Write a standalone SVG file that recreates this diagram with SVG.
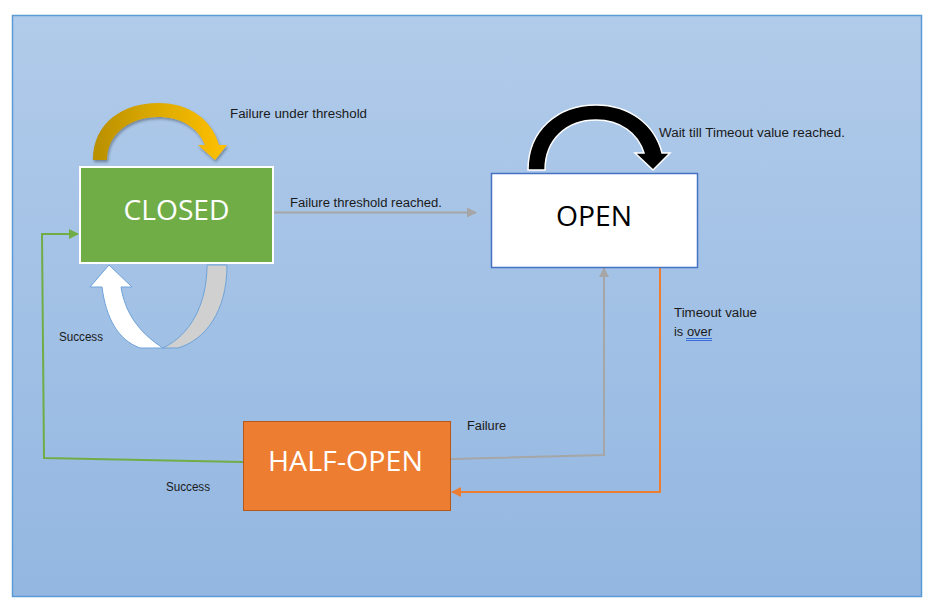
<svg xmlns="http://www.w3.org/2000/svg" width="940" height="609" viewBox="0 0 940 609">
<defs>
<linearGradient id="bg" x1="0" y1="0" x2="0" y2="1">
<stop offset="0" stop-color="#b1cbea"/>
<stop offset="1" stop-color="#93b7e1"/>
</linearGradient>
<linearGradient id="gold" x1="0" y1="0" x2="1" y2="0">
<stop offset="0" stop-color="#b98f00"/>
<stop offset="0.45" stop-color="#dba900"/>
<stop offset="1" stop-color="#ffc000"/>
</linearGradient>
<filter id="sh" x="-20%" y="-20%" width="140%" height="140%">
<feDropShadow dx="1" dy="2" stdDeviation="1.5" flood-color="#000" flood-opacity="0.35"/>
</filter>
<marker id="mGray" viewBox="0 0 10 10" refX="9" refY="5" markerWidth="10" markerHeight="10" markerUnits="userSpaceOnUse" orient="auto">
<path d="M0,0 L10,5 L0,10 Z" fill="#a6a6a6"/>
</marker>
<marker id="mOrange" viewBox="0 0 10 10" refX="9" refY="5" markerWidth="10" markerHeight="10" markerUnits="userSpaceOnUse" orient="auto">
<path d="M0,0 L10,5 L0,10 Z" fill="#ed7d31"/>
</marker>
<marker id="mGreen" viewBox="0 0 10 10" refX="9" refY="5" markerWidth="10" markerHeight="10" markerUnits="userSpaceOnUse" orient="auto">
<path d="M0,0 L10,5 L0,10 Z" fill="#70ad47"/>
</marker>
</defs>
<style>
.lbl{font-family:"Liberation Sans","Open Sans",sans-serif;font-size:12px;fill:#1a1a1a}
.big{font-family:"Open Sans","Liberation Sans",sans-serif;font-size:28px}
.conn{fill:none;stroke-width:2}
</style>
<rect x="0" y="0" width="940" height="609" fill="#ffffff"/>
<rect x="12.5" y="15.5" width="909" height="581" fill="url(#bg)" stroke="#5b9bd5" stroke-width="1.5"/>

<g id="connectors">
<path class="conn" d="M274,212.5 L476,212.5" stroke="#a6a6a6" marker-end="url(#mGray)"/>
<path class="conn" d="M451,459 L604,455 L604,268" stroke="#a6a6a6" marker-end="url(#mGray)"/>
<path class="conn" d="M660,268 L660,492 L452,492" stroke="#ed7d31" marker-end="url(#mOrange)"/>
<path class="conn" d="M243,462 L44,458 L42,234 L78,234" stroke="#70ad47" marker-end="url(#mGreen)"/>
</g>

<g id="loop-closed-failure">
<path filter="url(#sh)" d="M93,160 C93,122 124,103 158,103 C190,103 212,120 219,145 L227,145 L215,160 L198,145 L205,145 C198,127 180,117 158,117 C130,117 107,134 107,160 Z" fill="url(#gold)"/>
</g>

<g id="loop-open">
<path d="M528,170 C528,130 558,105 596,105 C630,105 655,125 662,153 L670,153 L653,170 L635,153 L644,153 C638,133 620,120 596,120 C566,120 545,140 545,170 Z" fill="#000" stroke="#fff" stroke-width="1.5"/>
</g>

<g id="loop-closed-success">
<path d="M163,348 C190,335 207,305 207,265 L227,265 C227,312 205,340 178,348 Z" fill="#d0d0d0" stroke="#6fa3d8" stroke-width="1"/>
<path d="M163,348 L140,348 C118,340 106,318 102,287 L90,287 L109,265 L132,287 L121,287 C125,312 138,332 163,348 Z" fill="#ffffff" stroke="#6fa3d8" stroke-width="1"/>
</g>

<g id="node-closed">
<rect x="80" y="167" width="193" height="96" fill="#70ad47" stroke="#ffffff" stroke-width="2"/>
<text x="176.5" y="220" class="big" fill="#ffffff" text-anchor="middle" textLength="106" lengthAdjust="spacingAndGlyphs">CLOSED</text>
</g>

<g id="node-open">
<rect x="491.5" y="173.5" width="206" height="94" fill="#ffffff" stroke="#4472c4" stroke-width="1.5"/>
<text x="594" y="226" class="big" fill="#000000" text-anchor="middle" textLength="76" lengthAdjust="spacingAndGlyphs">OPEN</text>
</g>

<g id="node-half-open">
<rect x="243.5" y="421.5" width="207" height="89" fill="#ed7d31" stroke="#b5581c" stroke-width="1"/>
<text x="345.5" y="471" class="big" fill="#ffffff" text-anchor="middle" textLength="155" lengthAdjust="spacingAndGlyphs">HALF-OPEN</text>
</g>

<g id="labels">
<text class="lbl" x="230" y="118" textLength="137" lengthAdjust="spacingAndGlyphs">Failure under threshold</text>
<text class="lbl" x="659" y="137" textLength="186" lengthAdjust="spacingAndGlyphs">Wait till Timeout value reached.</text>
<text class="lbl" x="290" y="207" textLength="152" lengthAdjust="spacingAndGlyphs">Failure threshold reached.</text>
<text class="lbl" x="674" y="317" textLength="83" lengthAdjust="spacingAndGlyphs">Timeout value</text>
<text class="lbl" x="674" y="336" textLength="38" lengthAdjust="spacingAndGlyphs">is over</text>
<path d="M686,338.5 L712,338.5 M686,340.5 L712,340.5" stroke="#2a64d6" stroke-width="0.9" fill="none"/>
<text class="lbl" x="59" y="341" textLength="44" lengthAdjust="spacingAndGlyphs">Success</text>
<text class="lbl" x="467" y="430" textLength="39" lengthAdjust="spacingAndGlyphs">Failure</text>
<text class="lbl" x="166" y="491" textLength="44" lengthAdjust="spacingAndGlyphs">Success</text>
</g>
</svg>
